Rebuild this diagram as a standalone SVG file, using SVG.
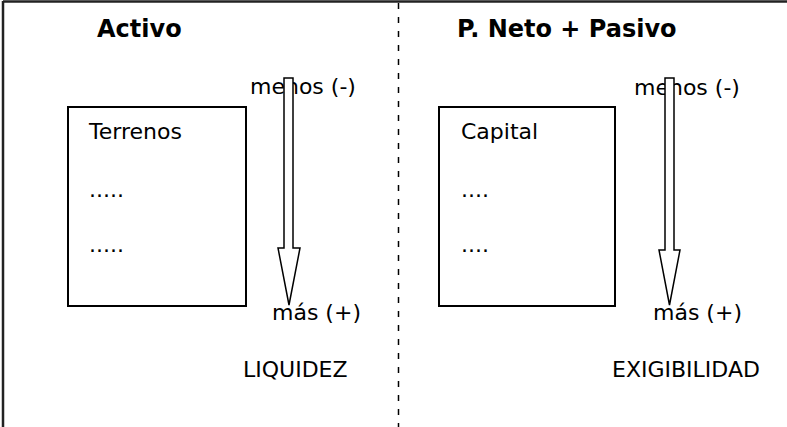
<svg xmlns="http://www.w3.org/2000/svg" width="787" height="427" viewBox="0 0 787 427">
<style>
text{font-family:"DejaVu Sans","Verdana",sans-serif;fill:#000}
.h{font-size:24px;font-weight:bold}
.t{font-size:22px}
.box{fill:#fff;stroke:#000;stroke-width:2}
.arr{fill:#fff;stroke:#000;stroke-width:1.5;stroke-linejoin:miter}
.frame{stroke:#222;stroke-width:2.5;fill:none}
.dash{stroke:#000;stroke-width:1.5;stroke-dasharray:6 8;fill:none}
</style>
<rect width="787" height="427" fill="#fff"/>
<g id="frame">
<line class="frame" x1="3" y1="1.5" x2="787" y2="1.5"/>
<line class="frame" x1="3" y1="1" x2="3" y2="427"/>
</g>
<g id="divider">
<line class="dash" x1="398.5" y1="3" x2="398.5" y2="427"/>
</g>
<g id="headers">
<text class="h" x="97" y="37">Activo</text>
<text class="h" x="457" y="37">P. Neto + Pasivo</text>
</g>
<g id="activo-box">
<rect class="box" x="68" y="107" width="178" height="199"/>
<text class="t" x="89" y="139">Terrenos</text>
<text class="t" x="89" y="197">.....</text>
<text class="t" x="89" y="252">.....</text>
</g>
<g id="pasivo-box">
<rect class="box" x="439" y="107" width="176" height="199"/>
<text class="t" x="461" y="139">Capital</text>
<text class="t" x="461" y="197">....</text>
<text class="t" x="461" y="252">....</text>
</g>
<g id="liquidez">
<text class="t" x="250" y="94">menos (-)</text>
<text class="t" x="272" y="320">más (+)</text>
<text class="t" x="243" y="377">LIQUIDEZ</text>
</g>
<g id="exigibilidad">
<text class="t" x="634" y="95">menos (-)</text>
<text class="t" x="653" y="320">más (+)</text>
<text class="t" x="612" y="377">EXIGIBILIDAD</text>
</g>
<g id="connectors">
<path class="arr" d="M284 78 H293 V248 H300 L289 305 L278 248 H284 Z"/>
<path class="arr" d="M665 78 H674 V250 H680 L669.5 305 L659 250 H665 Z"/>
</g>
</svg>
